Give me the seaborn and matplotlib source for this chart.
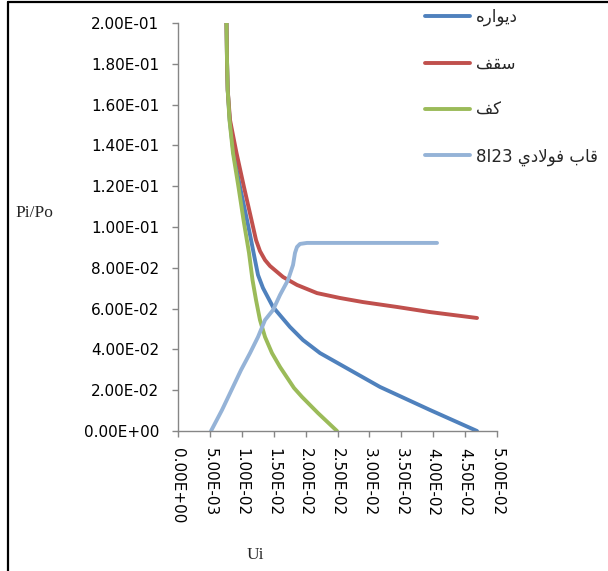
import numpy as np
import pandas as pd
import matplotlib
matplotlib.use("Agg")
import matplotlib.pyplot as plt
from matplotlib.lines import Line2D
from matplotlib.ticker import FormatStrFormatter
import seaborn as sns

# Series labels (Arabic presentation forms so they render shaped, right-to-left)
label_wall = "\uFEE9\uFEAD\uFE8D\uFEEE\uFEF3\uFEA9"            # ديواره
label_roof = "\uFED2\uFED8\uFEB3"                              # سقف
label_floor = "\uFED2\uFEDB"                                   # كف
label_frame = "8I23 \uFEF1\uFEA9\uFEFB\uFEEE\uFED3 \uFE8F\uFE8E\uFED7"  # قاب فولادي 8I23

# Wall (ديواره)
wall_u = [0.00760, 0.00768, 0.00779, 0.00810, 0.00870, 0.00972, 0.01082, 0.01136,
          0.01207, 0.01254, 0.01332, 0.01489, 0.01755, 0.01959, 0.02226, 0.02696,
          0.03166, 0.03950, 0.04687]
wall_p = [0.2000, 0.1819, 0.1672, 0.1525, 0.1363, 0.1196, 0.1034, 0.0951,
          0.0838, 0.0765, 0.0701, 0.0608, 0.0510, 0.0446, 0.0382, 0.0299,
          0.0216, 0.0103, 0.0000]

# Roof (سقف)
roof_u = [0.00760, 0.00768, 0.00779, 0.00815, 0.00917, 0.01034, 0.01152, 0.01223,
          0.01285, 0.01364, 0.01442, 0.01646, 0.01865, 0.02179, 0.02539, 0.02900,
          0.03433, 0.03950, 0.04687]
roof_p = [0.2000, 0.1819, 0.1672, 0.1525, 0.1363, 0.1196, 0.1034, 0.0936,
          0.0882, 0.0838, 0.0809, 0.0755, 0.0716, 0.0676, 0.0652, 0.0632,
          0.0608, 0.0583, 0.0554]

# Floor (كف)
floor_u = [0.00760, 0.00768, 0.00779, 0.00807, 0.00862, 0.00948, 0.01027, 0.01113,
           0.01168, 0.01223, 0.01285, 0.01364, 0.01473, 0.01599, 0.01818, 0.01944,
           0.02194, 0.02492]
floor_p = [0.2000, 0.1819, 0.1672, 0.1525, 0.1363, 0.1196, 0.1034, 0.0873,
           0.0740, 0.0642, 0.0544, 0.0461, 0.0382, 0.0314, 0.0211, 0.0167,
           0.0088, 0.0000]

# Steel frame 8I23
frame_u = [0.00517, 0.00690, 0.00862, 0.00988, 0.01129, 0.01254, 0.01364, 0.01489,
           0.01599, 0.01724, 0.01803, 0.01834, 0.01865, 0.01912, 0.02022, 0.02853,
           0.04060]
frame_p = [0.0000, 0.0103, 0.0216, 0.0299, 0.0382, 0.0461, 0.0544, 0.0593,
           0.0667, 0.0740, 0.0814, 0.0873, 0.0902, 0.0917, 0.0922, 0.0922,
           0.0922]

x_ticks = [0.0, 0.005, 0.01, 0.015, 0.02, 0.025, 0.03, 0.035, 0.04, 0.045, 0.05]
y_ticks = [0.0, 0.02, 0.04, 0.06, 0.08, 0.10, 0.12, 0.14, 0.16, 0.18, 0.20]

series = [(label_wall, wall_u, wall_p), (label_roof, roof_u, roof_p),
          (label_floor, floor_u, floor_p), (label_frame, frame_u, frame_p)]
rows = []
for name, us, ps in series:
    for u, p in zip(us, ps):
        rows.append({"series": name, "Ui": u, "PiPo": p})
df = pd.DataFrame(rows)

palette = {label_wall: "#4F81BD", label_roof: "#C0504D",
           label_floor: "#9BBB59", label_frame: "#95B3D7"}
hue_order = [label_wall, label_roof, label_floor, label_frame]

sns.set_style("white")
plt.rcParams["font.family"] = ["DejaVu Sans"]

fig = plt.figure(figsize=(6.08, 5.71), dpi=100)
ax = fig.add_axes([178 / 608, 1 - 431 / 571, (497 - 178) / 608, (431 - 23) / 571])

sns.lineplot(data=df, x="Ui", y="PiPo", hue="series", hue_order=hue_order,
             palette=palette, sort=False, estimator=None, linewidth=2.8, ax=ax)
for ln in ax.get_lines():
    ln.set_solid_capstyle("round")
    ln.set_solid_joinstyle("round")

ax.set_xlim(0, 0.05)
ax.set_ylim(0, 0.2)
ax.set_xticks(x_ticks)
ax.set_yticks(y_ticks)
ax.xaxis.set_major_formatter(FormatStrFormatter("%.2E"))
ax.yaxis.set_major_formatter(FormatStrFormatter("%.2E"))
ax.set_xlabel("")
ax.set_ylabel("")

for s in ["top", "right"]:
    ax.spines[s].set_visible(False)
for s in ["left", "bottom"]:
    ax.spines[s].set_color("#868686")
    ax.spines[s].set_linewidth(1.0)
ax.tick_params(axis="both", direction="out", length=4.5, width=1, color="#868686",
               labelsize=11, labelcolor="#000000", left=True, bottom=True)
ax.tick_params(axis="y", pad=9)
ax.tick_params(axis="x", pad=8)
for lab in ax.get_xticklabels():
    lab.set_rotation(-90)
    lab.set_ha("center")
    lab.set_va("top")

fig.text(15 / 608, 1 - 213 / 571, "Pi/Po", family="Liberation Serif", fontsize=12.5,
         ha="left", va="center")
fig.text(255 / 608, 1 - 555 / 571, "Ui", family="Liberation Serif", fontsize=12.5,
         ha="center", va="center")

handles, labels = ax.get_legend_handles_labels()
leg = ax.legend(handles, labels, loc="upper left",
                bbox_to_anchor=(425 / 608, 1 - 8 / 571), bbox_transform=fig.transFigure,
                frameon=False, fontsize=12, handlelength=2.7, handletextpad=0.35,
                labelspacing=1.7, borderaxespad=0, borderpad=0)
for h in leg.get_lines():
    h.set_linewidth(2.8)

# figure border (top and left)
fig.add_artist(Line2D([8 / 608, 8 / 608], [0, 1 - 2 / 571], color="black",
                      linewidth=1.6, transform=fig.transFigure))
fig.add_artist(Line2D([8 / 608, 1], [1 - 2 / 571, 1 - 2 / 571], color="black",
                      linewidth=1.6, transform=fig.transFigure))

fig.savefig("out.png", dpi=100)
